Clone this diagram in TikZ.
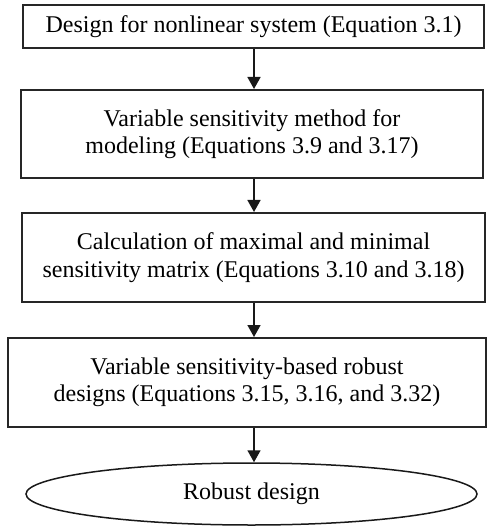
\documentclass[tikz,border=0pt]{standalone}
\usepackage{fontspec}
\setmainfont{Liberation Serif}
\usetikzlibrary{arrows.meta,shapes.geometric}
\begin{document}
\begin{tikzpicture}[x=1pt,y=-1pt,
  stepbox/.style={draw=black!85, line width=2pt, rectangle, align=center,
    inner sep=0pt, font=\fontsize{24}{27.5}\selectfont},
  endbox/.style={draw=black!90, line width=1.5pt, ellipse, inner sep=0pt,
    font=\fontsize{24}{27.5}\selectfont},
  flow/.style={line width=1.6pt, draw=black!90,
    -{Triangle[width=13pt,length=12pt]}}]
\useasboundingbox (0,0) rectangle (487,526);
\node[stepbox, minimum width=461pt, minimum height=43pt] (b1) at (253.5,27)
  {Design for nonlinear system (Equation 3.1)};
\node[stepbox, minimum width=462pt, minimum height=88pt] (b2) at (252,134)
  {Variable sensitivity method for\\modeling (Equations 3.9 and 3.17)};
\node[stepbox, minimum width=463pt, minimum height=89pt] (b3) at (253.5,257.5)
  {Calculation of maximal and minimal\\sensitivity matrix (Equations 3.10 and 3.18)};
\node[stepbox, minimum width=478pt, minimum height=89pt] (b4) at (247,382.5)
  {Variable sensitivity-based robust\\designs (Equations 3.15, 3.16, and 3.32)};
\node[endbox, minimum width=451pt, minimum height=62pt] (e) at (251.5,494)
  {Robust design};
\draw[flow] (b1.south -| 254,0) -- (b2.north -| 254,0);
\draw[flow] (b2.south -| 254,0) -- (b3.north -| 254,0);
\draw[flow] (b3.south -| 254,0) -- (b4.north -| 254,0);
\draw[flow] (b4.south -| 254,0) -- (e.north -| 254,0);
\end{tikzpicture}
\end{document}
